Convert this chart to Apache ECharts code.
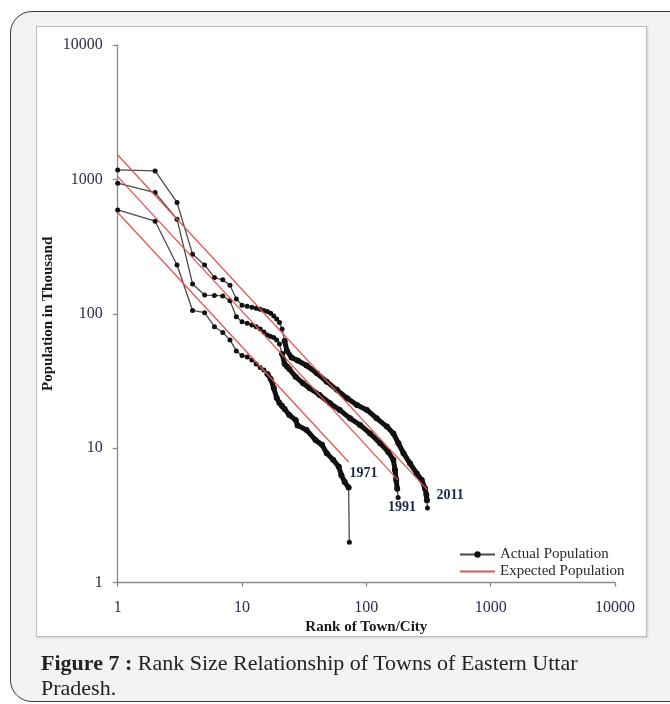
<!DOCTYPE html>
<html>
<head>
<meta charset="utf-8">
<title>Rank Size Relationship of Towns of Eastern Uttar Pradesh</title>
<script src="https://cdn.jsdelivr.net/npm/echarts@6/dist/echarts.min.js"></script>
<style>
    body{
        margin: 0;
        width: 670px;
        height: 704px;
        overflow: hidden;
        position: relative;
        background: #fff;
    }
    .card{
        position: absolute;
        left: 10px;
        top: 11px;
        width: 720px;
        height: 689px;
        border: 1.5px solid #3a3a3a;
        border-radius: 22px;
        background: #f3f3f4;
    }
    .frame{
        position: absolute;
        left: 36px;
        top: 26px;
        width: 609px;
        height: 609px;
        border: 1.5px solid #bdbdbd;
        background: #fff;
        box-shadow: 1px 1px 2px rgba(0,0,0,.15);
    }
    #chart{
        position: absolute;
        left: 0;
        top: 0;
        width: 670px;
        height: 704px;
    }
    .caption{
        position: absolute;
        left: 41px;
        top: 650px;
        font-family: 'Liberation Serif', serif;
        font-size: 22px;
        line-height: 25px;
        color: #222;
    }
</style>
</head>
<body>
<div class="card"></div>
<div class="frame"></div>
<div id="chart"></div>
<div class="caption"><b>Figure 7 :</b> Rank Size Relationship of Towns of Eastern Uttar<br>Pradesh.</div>

<script>
    // actual population (thousand) by rank
    const ranks2011 = [1,2,3,4,5,6,7,8,9,10,11,12,13,14,15,16,17,18,19,20,21,22,23,25,28,33,40,48,58,70,84,101,121,146,165,181,199,225,254,279,297,304,307,310];
    const pop2011 = [1177,1157,674,278,231,186,179,163,129,116,114,112,110,108,106,104,101,96.5,91.6,86.3,77.2,62.9,53,47.4,45,41.3,36.1,31.3,27.2,23.6,21.0,19.3,16.7,14.5,12.9,10.9,9.2,7.7,6.5,5.8,5.0,4.5,4.1,3.6];

    const ranks1991 = [1,2,3,4,5,6,7,8,9,10,11,12,13,14,15,16,17,18,19,20,21,22,23,24,27,31,35,42,51,61,74,89,107,129,150,165,170,174,177,180];
    const pop1991 = [937,798,506,167,138,137,136,125,95,87.5,85.1,82.7,80.3,77.2,73.3,69.7,67.9,66.7,64,59.7,50.3,42.4,40.6,38.8,34.1,30.4,28,24.9,21.6,19.3,16.7,14.9,12.9,10.9,9.4,8.2,6.9,5.8,5.0,4.3];

    const ranks1971 = [1,2,3,4,5,6,7,8,9,10,11,12,13,14,15,16,17,18,19,20,21,22,24,27,28,33,39,44,48,54,60,63,67,72,73];
    const pop1971 = [593,489,231,106,102,80.3,72.7,64,53,49,47.8,45.4,42.4,39.9,38.2,35.7,32.8,28.1,23.7,21.7,20.6,19.6,17.7,16.2,14.8,13.7,11.5,10.6,9.2,8.2,7.3,6.3,5.6,5.1,2.0];

    // expected (rank size rule) lines: first and last rank
    const expRanks2011 = [1, 310];
    const expPop2011 = [1520, 4.9];
    const expRanks1991 = [1, 180];
    const expPop1991 = [1050, 5.8];
    const expRanks1971 = [1, 72];
    const expPop1971 = [568, 7.9];

    const xTicks = [1, 10, 100, 1000, 10000];
    const yTicks = [1, 10, 100, 1000, 10000];

    const serif = "'Liberation Serif', serif";

    function pairs(r, v){
        return r.map((x, i) => [x, v[i]]);
    }

    const actual = [
        {ranks: ranks2011, pop: pop2011, thickFrom: 22},
        {ranks: ranks1991, pop: pop1991, thickFrom: 21},
        {ranks: ranks1971, pop: pop1971, thickFrom: 16}
    ];
    const expected = [
        {year: '2011', ranks: expRanks2011, pop: expPop2011, offset: [1, 5]},
        {year: '1991', ranks: expRanks1991, pop: expPop1991, offset: [-18, 27]},
        {year: '1971', ranks: expRanks1971, pop: expPop1971, offset: [-7, 11]}
    ];

    const series = [];
    actual.forEach(a => {
        const data = pairs(a.ranks, a.pop);
        series.push({
            name: 'Actual Population',
            type: 'line',
            data: data,
            symbol: 'circle',
            symbolSize: 5,
            itemStyle: {color: '#111'},
            lineStyle: {color: '#4a4a4a', width: 1.3},
            z: 2,
            animation: false
        });
        // towns are so close together here that the markers merge into a thick band
        series.push({
            name: 'Actual Population',
            type: 'line',
            data: data.filter((d, i) => d[0] >= a.thickFrom && i < data.length - 1),
            symbol: 'circle',
            symbolSize: 6,
            itemStyle: {color: '#111'},
            lineStyle: {color: '#111', width: 5, cap: 'round', join: 'round'},
            z: 2,
            animation: false
        });
    });
    expected.forEach(e => {
        series.push({
            name: 'Expected Population',
            type: 'line',
            data: pairs(e.ranks, e.pop),
            symbol: 'none',
            lineStyle: {color: '#e05555', width: 1.3},
            z: 3,
            animation: false,
            endLabel: {
                show: true,
                formatter: e.year,
                offset: e.offset,
                fontFamily: serif,
                fontWeight: 'bold',
                fontSize: 14,
                color: '#1d2646'
            }
        });
    });

    const chart = echarts.init(document.getElementById('chart'), null, {renderer: 'canvas'});
    chart.setOption({
        animation: false,
        grid: {left: 117.7, top: 45, right: 55, bottom: 121.3},
        legend: {
            data: [
                {name: 'Actual Population'},
                {name: 'Expected Population', itemStyle: {opacity: 0}}
            ],
            orient: 'vertical',
            left: 459,
            top: 547,
            padding: 0,
            itemWidth: 35,
            itemHeight: 8,
            itemGap: 2,
            textStyle: {fontFamily: serif, fontSize: 15, color: '#2a2a2a'}
        },
        xAxis: {
            type: 'log',
            logBase: 10,
            min: xTicks[0],
            max: xTicks[xTicks.length - 1],
            name: 'Rank of Town/City',
            nameLocation: 'middle',
            nameGap: 37,
            nameMoveOverlap: false,
            nameTextStyle: {fontFamily: serif, fontWeight: 'bold', fontSize: 15, color: '#1a1a1a'},
            axisLine: {lineStyle: {color: '#8a8a8a', width: 1.3}},
            axisTick: {length: 4, lineStyle: {color: '#8a8a8a', width: 1.3}},
            axisLabel: {
                margin: 17,
                fontFamily: serif,
                fontSize: 16,
                color: '#2d2a4a',
                formatter: v => String(Math.round(v))
            },
            splitLine: {show: false}
        },
        yAxis: {
            type: 'log',
            logBase: 10,
            min: yTicks[0],
            max: yTicks[yTicks.length - 1],
            name: 'Population in Thousand',
            nameLocation: 'middle',
            nameRotate: 90,
            nameGap: 62,
            nameMoveOverlap: false,
            nameTextStyle: {fontFamily: serif, fontWeight: 'bold', fontSize: 15, color: '#1a1a1a'},
            axisLine: {lineStyle: {color: '#8a8a8a', width: 1.3}},
            axisTick: {length: 5, lineStyle: {color: '#8a8a8a', width: 1.3}},
            axisLabel: {
                margin: 15,
                fontFamily: serif,
                fontSize: 16,
                color: '#2d2a4a',
                formatter: v => String(Math.round(v))
            },
            splitLine: {show: false}
        },
        series: series
    });
</script>
</body>
</html>
